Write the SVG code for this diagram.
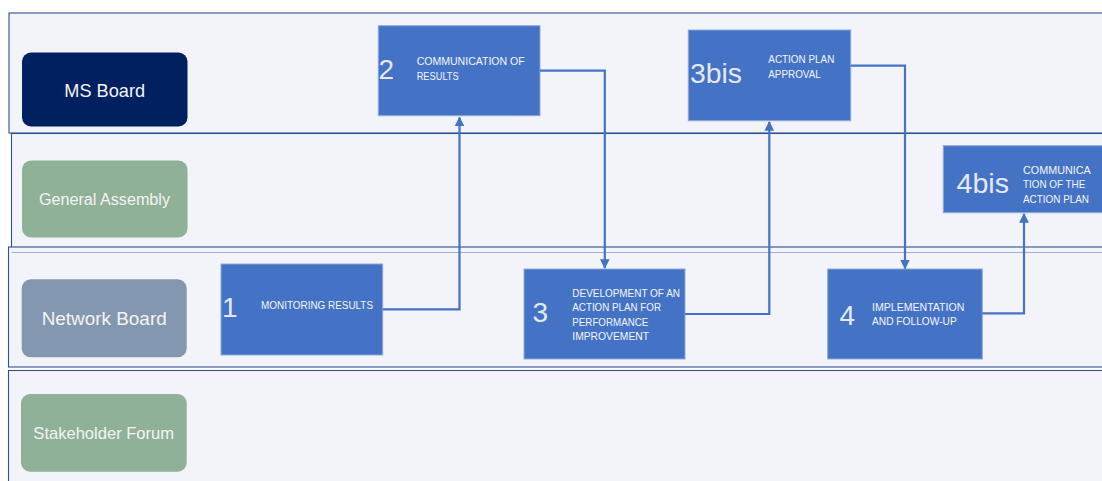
<svg xmlns="http://www.w3.org/2000/svg" width="1102" height="481" viewBox="0 0 1102 481">
<style>
.lane{fill:#F2F4F9;stroke:#2F4F8F;stroke-width:1.1}
.lbl{font-family:"Liberation Sans",Arial,sans-serif;fill:#F4F4F4;text-anchor:middle}
.box{fill:#4472C4;stroke:#8EA9DB;stroke-width:1}
.num{font-family:"Liberation Sans",Arial,sans-serif;font-size:28px;fill:#E4E8F0}
.txt{font-family:"Liberation Sans",Arial,sans-serif;font-size:10.5px;fill:#F4F6FA}
.con{fill:none;stroke:#4472C4;stroke-width:2.2}
</style>
<defs>
<marker id="arr" viewBox="0 0 10 10" refX="9" refY="5" markerWidth="4.4" markerHeight="4.4" orient="auto" markerUnits="strokeWidth">
<path d="M0,0 L10,5 L0,10 Z" fill="#4472C4"/>
</marker>
</defs>
<rect width="1102" height="481" fill="#FFFFFF"/>
<g id="lanes">
<rect class="lane" x="9" y="13" width="1110" height="120"/>
<rect class="lane" x="11.5" y="133.5" width="1110" height="119"/>
<rect class="lane" x="8.5" y="247" width="1110" height="120"/>
<rect class="lane" x="8.5" y="370.5" width="1110" height="130"/>
<line x1="11.5" y1="252.5" x2="1102" y2="252.5" stroke="#9FB0D4" stroke-width="1.2"/>
</g>
<g id="ms-board">
<rect x="22" y="52.5" width="165.5" height="74" rx="9" fill="#002060"/>
<text class="lbl" x="104.7" y="96.5" font-size="18.5" textLength="80.7" lengthAdjust="spacingAndGlyphs">MS Board</text>
</g>
<g id="general-assembly">
<rect x="22" y="160.5" width="165.5" height="77" rx="9" fill="#8FB198"/>
<text class="lbl" x="104.5" y="205" font-size="16" textLength="131" lengthAdjust="spacingAndGlyphs">General Assembly</text>
</g>
<g id="network-board">
<rect x="21.7" y="279.3" width="165" height="78" rx="9" fill="#8497B0"/>
<text class="lbl" x="104.2" y="325" font-size="18.5" textLength="125" lengthAdjust="spacingAndGlyphs">Network Board</text>
</g>
<g id="stakeholder-forum">
<rect x="21" y="394" width="165.7" height="77.7" rx="9" fill="#8FB198"/>
<text class="lbl" x="103.7" y="439" font-size="16.5" textLength="140.7" lengthAdjust="spacingAndGlyphs">Stakeholder Forum</text>
</g>
<g id="step1">
<rect class="box" x="221" y="264" width="161.7" height="91"/>
<text class="num" x="222" y="316.7">1</text>
<text class="txt" x="261" y="309.3" textLength="112" lengthAdjust="spacingAndGlyphs">MONITORING RESULTS</text>
</g>
<g id="step2">
<rect class="box" x="378.3" y="25.7" width="161.7" height="90"/>
<text class="num" x="378.5" y="79">2</text>
<text class="txt" x="416.7" y="65" textLength="108" lengthAdjust="spacingAndGlyphs">COMMUNICATION OF</text>
<text class="txt" x="416.7" y="79.5" textLength="42" lengthAdjust="spacingAndGlyphs">RESULTS</text>
</g>
<g id="step3">
<rect class="box" x="524" y="269" width="161" height="90"/>
<text class="num" x="532.5" y="322">3</text>
<text class="txt" x="572.3" y="296.7" textLength="107.7" lengthAdjust="spacingAndGlyphs">DEVELOPMENT OF AN</text>
<text class="txt" x="572.3" y="311.3" textLength="88.7" lengthAdjust="spacingAndGlyphs">ACTION PLAN FOR</text>
<text class="txt" x="572.3" y="326" textLength="76" lengthAdjust="spacingAndGlyphs">PERFORMANCE</text>
<text class="txt" x="572.3" y="340.3" textLength="76.7" lengthAdjust="spacingAndGlyphs">IMPROVEMENT</text>
</g>
<g id="step3bis">
<rect class="box" x="688.3" y="30" width="162.4" height="90.7"/>
<text class="num" x="690" y="83.3" textLength="52" lengthAdjust="spacingAndGlyphs">3bis</text>
<text class="txt" x="768.3" y="63.3" textLength="66" lengthAdjust="spacingAndGlyphs">ACTION PLAN</text>
<text class="txt" x="768.3" y="77.7" textLength="52.4" lengthAdjust="spacingAndGlyphs">APPROVAL</text>
</g>
<g id="step4">
<rect class="box" x="827.7" y="269" width="154.6" height="90"/>
<text class="num" x="839.5" y="325">4</text>
<text class="txt" x="872" y="311" textLength="92.3" lengthAdjust="spacingAndGlyphs">IMPLEMENTATION</text>
<text class="txt" x="872" y="325.3" textLength="84.7" lengthAdjust="spacingAndGlyphs">AND FOLLOW-UP</text>
</g>
<g id="step4bis">
<rect class="box" x="943.3" y="145.7" width="170" height="67"/>
<text class="num" x="956.5" y="192.7" textLength="52.5" lengthAdjust="spacingAndGlyphs">4bis</text>
<text class="txt" x="1023" y="174" textLength="67.7" lengthAdjust="spacingAndGlyphs">COMMUNICA</text>
<text class="txt" x="1023" y="188.3" textLength="62.3" lengthAdjust="spacingAndGlyphs">TION OF THE</text>
<text class="txt" x="1023" y="202.7" textLength="66" lengthAdjust="spacingAndGlyphs">ACTION PLAN</text>
</g>
<g id="connectors">
<path class="con" d="M382.7,309.3 H459.5 V117.5" marker-end="url(#arr)"/>
<path class="con" d="M540,70.7 H604.8 V268" marker-end="url(#arr)"/>
<path class="con" d="M685,314 H769.3 V122" marker-end="url(#arr)"/>
<path class="con" d="M850.7,65.7 H905 V268.5" marker-end="url(#arr)"/>
<path class="con" d="M982.3,313.3 H1024 V214" marker-end="url(#arr)"/>
</g>
</svg>
